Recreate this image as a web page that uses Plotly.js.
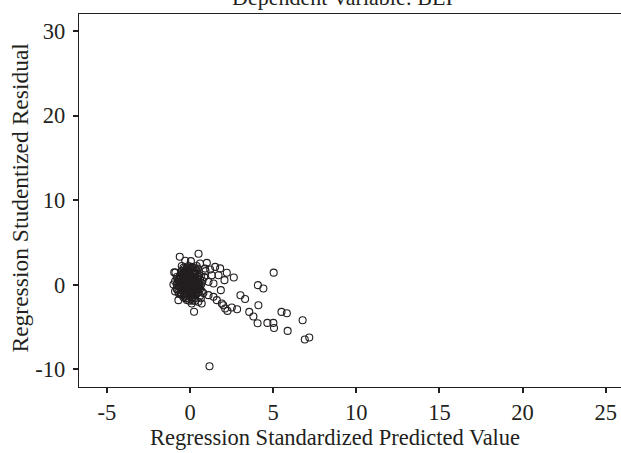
<!DOCTYPE html>
<html>
<head>
<meta charset="utf-8">
<script src="https://cdn.plot.ly/plotly-3.0.1.min.js"></script>
<style>html,body{margin:0;padding:0;background:#fff;}#chart{width:621px;height:453px;}</style>
</head>
<body>
<div id="chart"></div>
<script>
// Regression Standardized Predicted Value (x) and Studentized Residual (y)
const clusterX = [-0.1,0.0,-0.2,0.1,-0.3,0.2,-0.4,0.3,-0.1,0.0,
  -0.5,0.4,-0.2,0.1,-0.6,0.5,-0.3,0.2,-0.7,0.6,
  -0.1,0.0,-0.4,0.3,-0.6,0.5,-0.2,0.1,-0.8,0.7,
  -0.5,0.4,-0.3,0.2,-0.7,0.6,-0.1,-0.4,0.3,-0.8,
  0.0,-0.2,0.1,-0.3,0.2,-0.1,0.0,-0.2,0.1,-0.4,
  0.3,-0.5,0.4,-0.3,0.2,-0.6,0.5,-0.2,0.1,-0.7,
  0.6,-0.4,0.3,-0.5,0.4,-0.1,0.0,-0.3,0.2,-0.6,
  0.5,-0.2,0.1,-0.8,0.7,-0.4,0.3,-0.5,0.4,-0.9,
  -0.05,0.05,-0.25,0.15,-0.35,0.25,-0.15,0.35,-0.45,0.45,
  -0.55,0.55,-0.65,0.65,-0.25,0.15,-0.35,0.25,-0.75,0.75,
  -0.95,-0.29,0.05,-1.0,-0.7,-0.9,0.8,0.85,0.9,0.6,-0.88,
  -0.15,0.05,-0.25,0.15,-0.35,0.25,-0.05,-0.45,0.35,-0.55,
  0.45,-0.15,0.05,-0.25,0.15,-0.35,0.25,-0.05,-0.45,0.35,
  -0.65,0.55,-0.75,0.65,-0.15,0.05,-0.25,0.15,-0.35,0.25,
  -0.05,-0.45,0.35,-0.55,0.45,-0.15,0.05,-0.25,0.15,-0.35,
  0.25,-0.05,-0.45,0.35,-0.55,0.45,-0.65,0.55,-0.75,0.65,
  -0.2,0.0,-0.3,0.1,-0.4,0.2,-0.1,0.3,-0.5,0.4];
const clusterY = [0.0,0.2,0.4,-0.3,-0.2,0.5,0.7,-0.6,1.0,-0.9,
  0.1,0.1,-0.6,0.8,-0.4,-0.2,1.3,-1.1,0.5,0.6,
  1.6,-1.4,-1.0,1.2,1.1,-0.9,1.9,-1.7,0.0,0.2,
  1.6,1.6,-1.4,2.0,-0.9,-1.3,2.2,2.0,-1.6,0.9,
  0.5,0.1,-0.1,0.6,0.3,-0.4,1.3,-1.1,1.5,0.3,
  0.4,-0.7,-0.5,0.9,-0.8,0.2,0.9,1.4,-1.3,-0.2,
  -0.5,1.5,0.9,-1.2,1.3,-1.6,1.8,-0.8,1.7,0.8,
  0.3,-1.8,2.1,-0.5,-0.8,-1.5,-1.9,2.2,2.2,0.4,
  0.35,-0.55,0.75,0.15,-0.35,-0.25,-0.75,0.65,0.45,-0.65,
  1.35,1.15,-0.15,-0.05,1.65,-1.45,1.85,1.45,0.25,0.45,
  1.45,2.82,2.78,0.02,-1.83,-0.8,-1.0,0.9,1.9,2.5,1.44,
  0.9,1.1,-0.1,0.6,0.2,-0.5,-1.2,0.9,1.7,-1.0,
  0.7,-0.3,-1.0,1.1,1.0,1.2,0.9,-1.9,-0.2,-1.2,
  0.6,-0.3,-0.6,1.0,2.0,1.9,-1.6,-1.9,0.0,0.1,
  0.7,-0.5,-0.9,0.7,1.9,1.3,-0.2,0.3,-0.7,-1.2,
  1.2,-0.9,1.2,0.2,-0.1,-1.0,-1.1,0.0,0.7,-1.6,
  0.65,-0.65,-0.45,0.45,1.05,-1.25,0.15,0.75,0.35,-0.15];
const outlierX = [0.51,-0.62,1.01,1.51,1.81,2.21,2.63,2.07,1.31,1.71,
  1.11,1.41,1.21,0.93,1.85,3.03,3.31,1.11,1.41,1.61,
  1.91,2.11,2.51,2.83,0.24,0.5,0.7,0.1,5.03,4.08,
  4.41,4.11,3.56,3.81,4.06,4.65,5.01,5.05,5.5,5.82,
  5.87,6.77,6.9,7.17,1.17,2.0,2.25];
const outlierY = [3.65,3.3,2.58,2.1,1.92,1.4,0.85,0.53,1.12,1.12,
  0.33,0.14,1.8,1.6,-0.65,-1.26,-1.7,-1.24,-1.44,-1.83,
  -2.22,-2.82,-2.7,-2.9,-3.2,-2.03,-2.22,-2.22,1.42,-0.06,
  -0.45,-2.43,-3.22,-3.77,-4.56,-4.52,-4.52,-5.12,-3.22,-3.38,
  -5.47,-4.2,-6.49,-6.25,-9.64,-2.43,-3.1];
const xTicks = [-5,0,5,10,15,20,25];
const yTicks = [-10,0,10,20,30];
const chartTitle = 'Dependent Variable: BEI';
const xTitle = 'Regression Standardized Predicted Value';
const yTitle = 'Regression Studentized Residual';

const ink = '#231f20';
const fam = '"Liberation Serif", "Times New Roman", serif';
const font = {family: fam, size: 22, color: ink};

const xs = clusterX.concat(outlierX);
const ys = clusterY.concat(outlierY);

const trace = {
  x: xs, y: ys, type: 'scatter', mode: 'markers',
  marker: {symbol: 'circle-open', size: 7, color: ink, line: {width: 1.1, color: ink}},
  hoverinfo: 'skip', cliponaxis: false
};

const layout = {
  width: 621, height: 453,
  margin: {l: 78.7, r: 0, t: 14, b: 66.3, pad: 0},
  paper_bgcolor: '#fff', plot_bgcolor: '#fff',
  showlegend: false,
  font: font,
  xaxis: {
    range: [-6.68, 25.92], tickvals: xTicks, ticktext: xTicks.map(String),
    showgrid: false, zeroline: false, showline: true, mirror: true,
    linecolor: ink, linewidth: 1.3, ticks: 'outside', ticklen: 5, tickwidth: 2, tickcolor: ink,
    tickfont: {family: fam, size: 22.5, color: ink}
  },
  yaxis: {
    range: [-12.1, 32.0], tickvals: yTicks, ticktext: yTicks.map(String),
    showgrid: false, zeroline: false, showline: true, mirror: false,
    linecolor: ink, linewidth: 1.3, ticks: 'outside', ticklen: 5, tickwidth: 2, tickcolor: ink,
    tickfont: {family: fam, size: 22.5, color: ink}, ticklabelstandoff: 3
  },
  annotations: [
    {text: chartTitle, xref: 'paper', yref: 'paper', x: 0.4855, y: 1.043,
     xanchor: 'center', yanchor: 'middle', showarrow: false, font: font},
    {text: xTitle, xref: 'paper', yref: 'paper', x: 0.4726, y: -0.135,
     xanchor: 'center', yanchor: 'middle', showarrow: false, font: {family: fam, size: 22.5, color: ink}},
    {text: yTitle, xref: 'paper', yref: 'paper', x: -0.1082, y: 0.509, textangle: -90,
     xanchor: 'center', yanchor: 'middle', showarrow: false, font: {family: fam, size: 23.5, color: ink}}
  ]
};

Plotly.newPlot('chart', [trace], layout, {staticPlot: true, displayModeBar: false});
</script>
</body>
</html>
